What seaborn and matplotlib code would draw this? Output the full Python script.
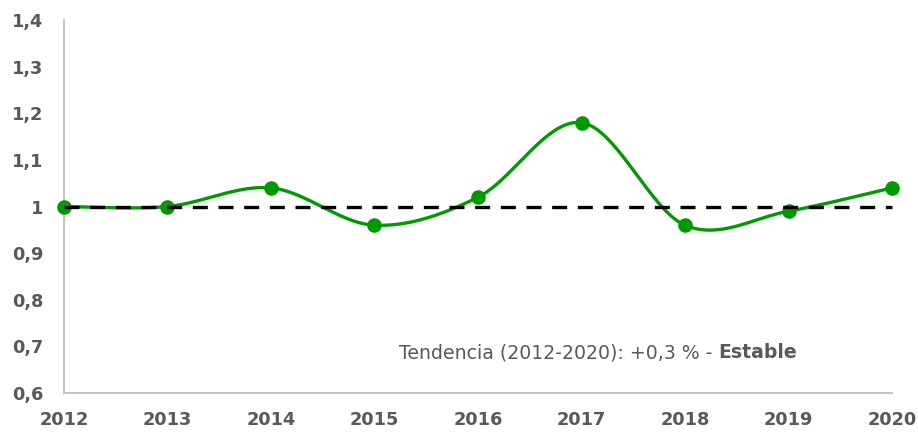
#!/usr/bin/env python3
# -*- coding: utf-8 -*-

import numpy as np
import pandas as pd
import seaborn as sns
import matplotlib.pyplot as plt

# values
years = [2012, 2013, 2014, 2015, 2016, 2017, 2018, 2019, 2020]
index_values = [1.0, 1.0, 1.04, 0.96, 1.02, 1.18, 0.96, 0.99, 1.04]
reference_level = 1.0
y_ticks = [0.6, 0.7, 0.8, 0.9, 1.0, 1.1, 1.2, 1.3, 1.4]
trend_text = "Tendencia (2012-2020): +0,3 % - "
trend_label = "Estable"

GREEN = "#009900"
GREY = "#595959"
AXIS_GREY = "#bfbfbf"


def smooth_curve(x, y, n=40):
    """Excel-like smoothed line: Catmull-Rom segments as cubic Beziers."""
    pts = np.column_stack([x, y]).astype(float)
    padded = np.vstack([pts[0], pts, pts[-1]])
    out = []
    t = np.linspace(0, 1, n)[:, None]
    for i in range(1, len(padded) - 2):
        p0, p1, p2, p3 = padded[i - 1], padded[i], padded[i + 1], padded[i + 2]
        c1 = p1 + (p2 - p0) / 6.0
        c2 = p2 - (p3 - p1) / 6.0
        seg = ((1 - t) ** 3) * p1 + 3 * ((1 - t) ** 2) * t * c1 + 3 * (1 - t) * t ** 2 * c2 + t ** 3 * p2
        out.append(seg if i == 1 else seg[1:])
    out = np.vstack(out)
    return out[:, 0], out[:, 1]


sns.set_theme(style="white")
plt.rcParams['font.family'] = ['DejaVu Sans']

df = pd.DataFrame({"year": years, "value": index_values})
sx, sy = smooth_curve(df["year"], df["value"])
df_smooth = pd.DataFrame({"year": sx, "value": sy})

fig, ax = plt.subplots(figsize=(9.18, 4.37), dpi=100)
fig.subplots_adjust(left=0.0697, right=0.9717, top=0.954, bottom=0.1007)

sns.lineplot(data=df_smooth, x="year", y="value", color=GREEN, linewidth=2.4,
             sort=False, estimator=None, ax=ax, zorder=2)
sns.scatterplot(data=df, x="year", y="value", color=GREEN, s=110, linewidth=0,
                ax=ax, zorder=3, clip_on=False)
ax.plot([years[0], years[-1]], [reference_level, reference_level], color="black",
        linewidth=2.4, dashes=(4.5, 3.2), zorder=4, clip_on=False)

ax.set_xlim(years[0], years[-1])
ax.set_ylim(y_ticks[0], y_ticks[-1])
ax.set_xticks(years)
ax.set_xticklabels([str(y) for y in years])
ax.set_yticks(y_ticks)
ax.set_yticklabels([("%g" % v).replace(".", ",") for v in y_ticks])
ax.set_xlabel("")
ax.set_ylabel("")

for side in ["top", "right"]:
    ax.spines[side].set_visible(False)
for side in ["left", "bottom"]:
    ax.spines[side].set_color(AXIS_GREY)
    ax.spines[side].set_linewidth(1.3)

ax.tick_params(axis="x", direction="in", length=6, width=1.3, color=AXIS_GREY,
               pad=13, labelsize=12.8, labelcolor=GREY)
ax.tick_params(axis="y", direction="in", length=6, width=1.3, color=AXIS_GREY,
               pad=15, labelsize=12.8, labelcolor=GREY)
for lab in ax.get_xticklabels() + ax.get_yticklabels():
    lab.set_fontweight("bold")

t1 = ax.text(2015.24, 0.675, trend_text, fontsize=13.6, color=GREY,
             ha="left", va="baseline")
ax.annotate(trend_label, xy=(1, 0), xycoords=t1, fontsize=13.6, color=GREY,
            fontweight="bold", ha="left", va="bottom")

plt.savefig("out.png", dpi=100)
